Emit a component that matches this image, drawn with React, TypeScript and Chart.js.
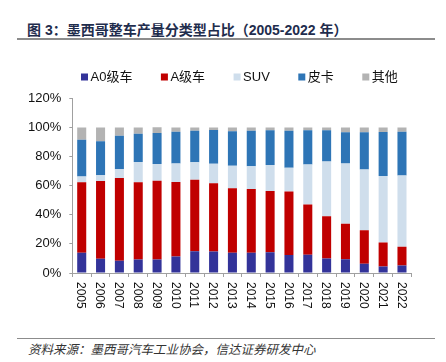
import React, { useEffect, useRef } from "react";
import { Chart, registerables } from "chart.js";

Chart.register(...registerables);

const years = ["2005","2006","2007","2008","2009","2010","2011","2012","2013","2014","2015","2016","2017","2018","2019","2020","2021","2022"];
const a0Class = [13.9, 9.8, 8.4, 9.3, 9.3, 11.4, 15.0, 14.8, 13.9, 13.9, 14.3, 12.3, 12.5, 10.0, 9.5, 6.4, 4.5, 5.2];
const aClass = [48.4, 53.4, 56.8, 53.0, 54.1, 51.1, 49.1, 46.8, 44.3, 43.8, 42.1, 43.6, 34.5, 28.9, 24.4, 22.9, 16.4, 12.8];
const suv = [3.9, 3.9, 6.1, 13.9, 11.4, 12.7, 12.0, 13.4, 15.4, 15.7, 17.7, 16.4, 27.5, 37.7, 41.3, 41.8, 45.7, 49.0];
const pickup = [25.4, 23.4, 23.0, 19.5, 21.4, 21.8, 21.6, 23.2, 23.7, 24.3, 23.9, 25.4, 23.5, 21.4, 21.4, 25.5, 30.2, 30.0];
const others = [8.4, 9.5, 5.7, 4.3, 3.9, 3.0, 2.3, 1.8, 2.7, 2.3, 2.0, 2.3, 2.0, 2.0, 3.4, 3.4, 3.2, 3.0];
const seriesNames = ["A0级车", "A级车", "SUV", "皮卡", "其他"];
const seriesColors = ["#333399", "#C00000", "#CFDEEC", "#2E75B6", "#B3B3B3"];
const yTicks = [0, 20, 40, 60, 80, 100, 120];

const titleText = "图 3：墨西哥整车产量分类型占比（2005-2022 年）";
const sourceText = "资料来源：墨西哥汽车工业协会，信达证券研发中心";

const FONT = '"Liberation Sans", Arial, "Noto Sans CJK SC", sans-serif';

export default function App() {
  const ref = useRef<HTMLCanvasElement | null>(null);

  useEffect(() => {
    document.body.style.margin = "0";
    const canvas = ref.current;
    if (!canvas) return;

    const legendPlugin = {
      id: "customLegend",
      afterDraw(chart: any) {
        const ctx = chart.ctx;
        ctx.save();
        ctx.font = `13px ${FONT}`;
        ctx.textBaseline = "middle";
        ctx.textAlign = "left";
        let x = 81;
        const yc = 22;
        chart.data.datasets.forEach((ds: any) => {
          ctx.fillStyle = ds.backgroundColor;
          ctx.fillRect(x, yc - 3.5, 7, 7);
          ctx.fillStyle = "#111";
          ctx.fillText(ds.label, x + 9.5, yc + 0.5);
          const w = ctx.measureText(ds.label).width;
          x += 9 + w + 29;
        });
        ctx.restore();
      },
    };

    const xLabelPlugin = {
      id: "rotatedXLabels",
      afterDraw(chart: any) {
        const ctx = chart.ctx;
        const xs = chart.scales.x;
        const top = chart.chartArea.bottom + 9;
        ctx.save();
        ctx.font = `12px ${FONT}`;
        ctx.fillStyle = "#111";
        ctx.textAlign = "left";
        ctx.textBaseline = "middle";
        (chart.data.labels as string[]).forEach((lab, i) => {
          const px = xs.getPixelForValue(i);
          ctx.save();
          ctx.translate(px - 1, top);
          ctx.rotate(Math.PI / 2);
          ctx.fillText(lab, 0, 0);
          ctx.restore();
        });
        ctx.restore();
      },
    };

    const data = [a0Class, aClass, suv, pickup, others];
    const chart = new Chart(canvas, {
      type: "bar",
      data: {
        labels: years,
        datasets: data.map((d, i) => ({
          label: seriesNames[i],
          data: d,
          backgroundColor: seriesColors[i],
          borderWidth: 0,
          barPercentage: 0.48,
          categoryPercentage: 1,
        })),
      },
      options: {
        animation: false,
        responsive: false,
        maintainAspectRatio: false,
        layout: { padding: { left: 0, right: 34.6, top: 43.3, bottom: 0 } },
        plugins: {
          legend: { display: false },
          tooltip: { enabled: false },
          title: { display: false },
        },
        scales: {
          x: {
            stacked: true,
            grid: {
              display: true,
              offset: true,
              drawOnChartArea: false,
              drawTicks: true,
              tickLength: 4,
              color: "#a0a0a0",
            },
            border: { display: true, color: "#a0a0a0", width: 1 },
            ticks: { display: false },
            afterFit(scale: any) {
              scale.height = 62;
            },
          },
          y: {
            stacked: true,
            min: 0,
            max: 120,
            afterBuildTicks(scale: any) {
              scale.ticks = yTicks.map((v) => ({ value: v }));
            },
            grid: {
              display: true,
              drawOnChartArea: false,
              drawTicks: true,
              tickLength: 3,
              color: "#a0a0a0",
            },
            border: { display: true, color: "#a0a0a0", width: 1 },
            ticks: {
              padding: 8,
              color: "#111",
              font: { size: 13, family: FONT },
              callback: (v: any) => `${v}%`,
            },
            afterFit(scale: any) {
              scale.width = 72.3;
            },
          },
        },
      },
      plugins: [legendPlugin, xLabelPlugin],
    });
    return () => chart.destroy();
  }, []);

  return (
    <div style={{ position: "fixed", left: 0, top: 0, width: 446, height: 362, background: "#fff", overflow: "hidden" }}>
      <div
        style={{
          position: "absolute",
          left: 27,
          top: 22,
          fontFamily: '"Liberation Sans", Arial, "Noto Sans CJK SC", sans-serif',
          fontWeight: "bold",
          fontSize: 14,
          lineHeight: "16px",
          color: "#1f2d4d",
          whiteSpace: "nowrap",
        }}
      >
        {titleText}
      </div>
      <div style={{ position: "absolute", left: 17, top: 38, width: 418, height: 2, background: "#8c8c8c" }} />
      <canvas ref={ref} width={446} height={280} style={{ position: "absolute", left: 0, top: 55, width: 446, height: 280 }} />
      <div style={{ position: "absolute", left: 17, top: 338, width: 418, height: 1, background: "#8c8c8c" }} />
      <div
        style={{
          position: "absolute",
          left: 28,
          top: 341,
          fontFamily: '"Noto Sans CJK SC", sans-serif',
          fontStyle: "italic",
          fontSize: 12.5,
          lineHeight: "16px",
          color: "#333",
          whiteSpace: "nowrap",
        }}
      >
        {sourceText}
      </div>
    </div>
  );
}
